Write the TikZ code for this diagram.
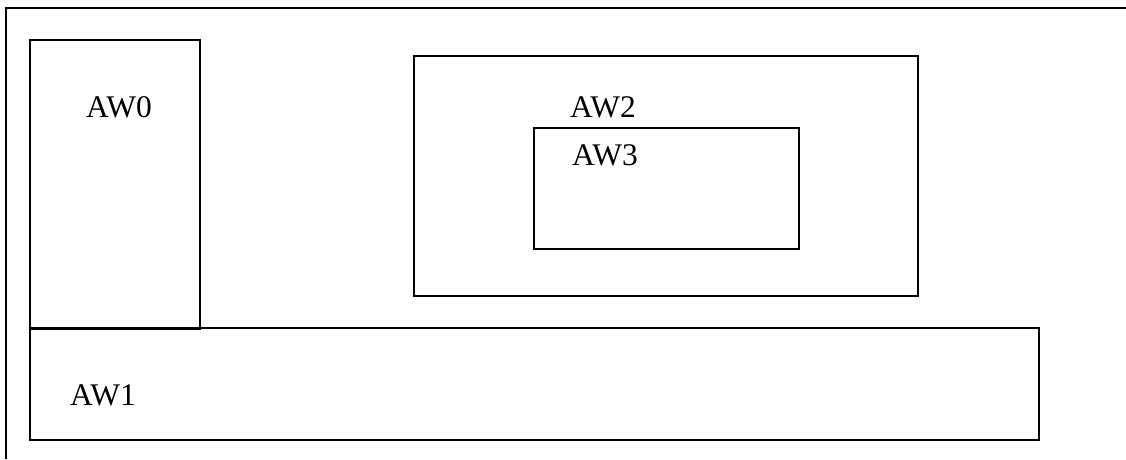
\documentclass[tikz,border=0pt]{standalone}
\usepackage{fontspec}
\setmainfont{Liberation Serif}
\usepackage{tikz}

\tikzset{
	win/.style={draw, line width=1.3pt},
	lbl/.style={anchor=base west, inner sep=0pt, font=\fontsize{31.5}{38}\selectfont}
}

\begin{document}
\begin{tikzpicture}[x=1pt, y=-1pt]
\useasboundingbox (0,0) rectangle (1126,459);
\draw[win] (1126,8) -- (6,8) -- (6,459);
\draw[win] (30,40) rectangle (200,329);
\draw[win] (30,328) rectangle (1039,440);
\draw[win] (414,56) rectangle (918,296);
\draw[win] (534,128) rectangle (799,249);
\node[lbl] (aw0) at (86,117) {AW0};
\node[lbl] (aw1) at (70,405) {AW1};
\node[lbl] (aw2) at (570,117) {AW2};
\node[lbl] (aw3) at (572,165) {AW3};
\end{tikzpicture}
\end{document}
